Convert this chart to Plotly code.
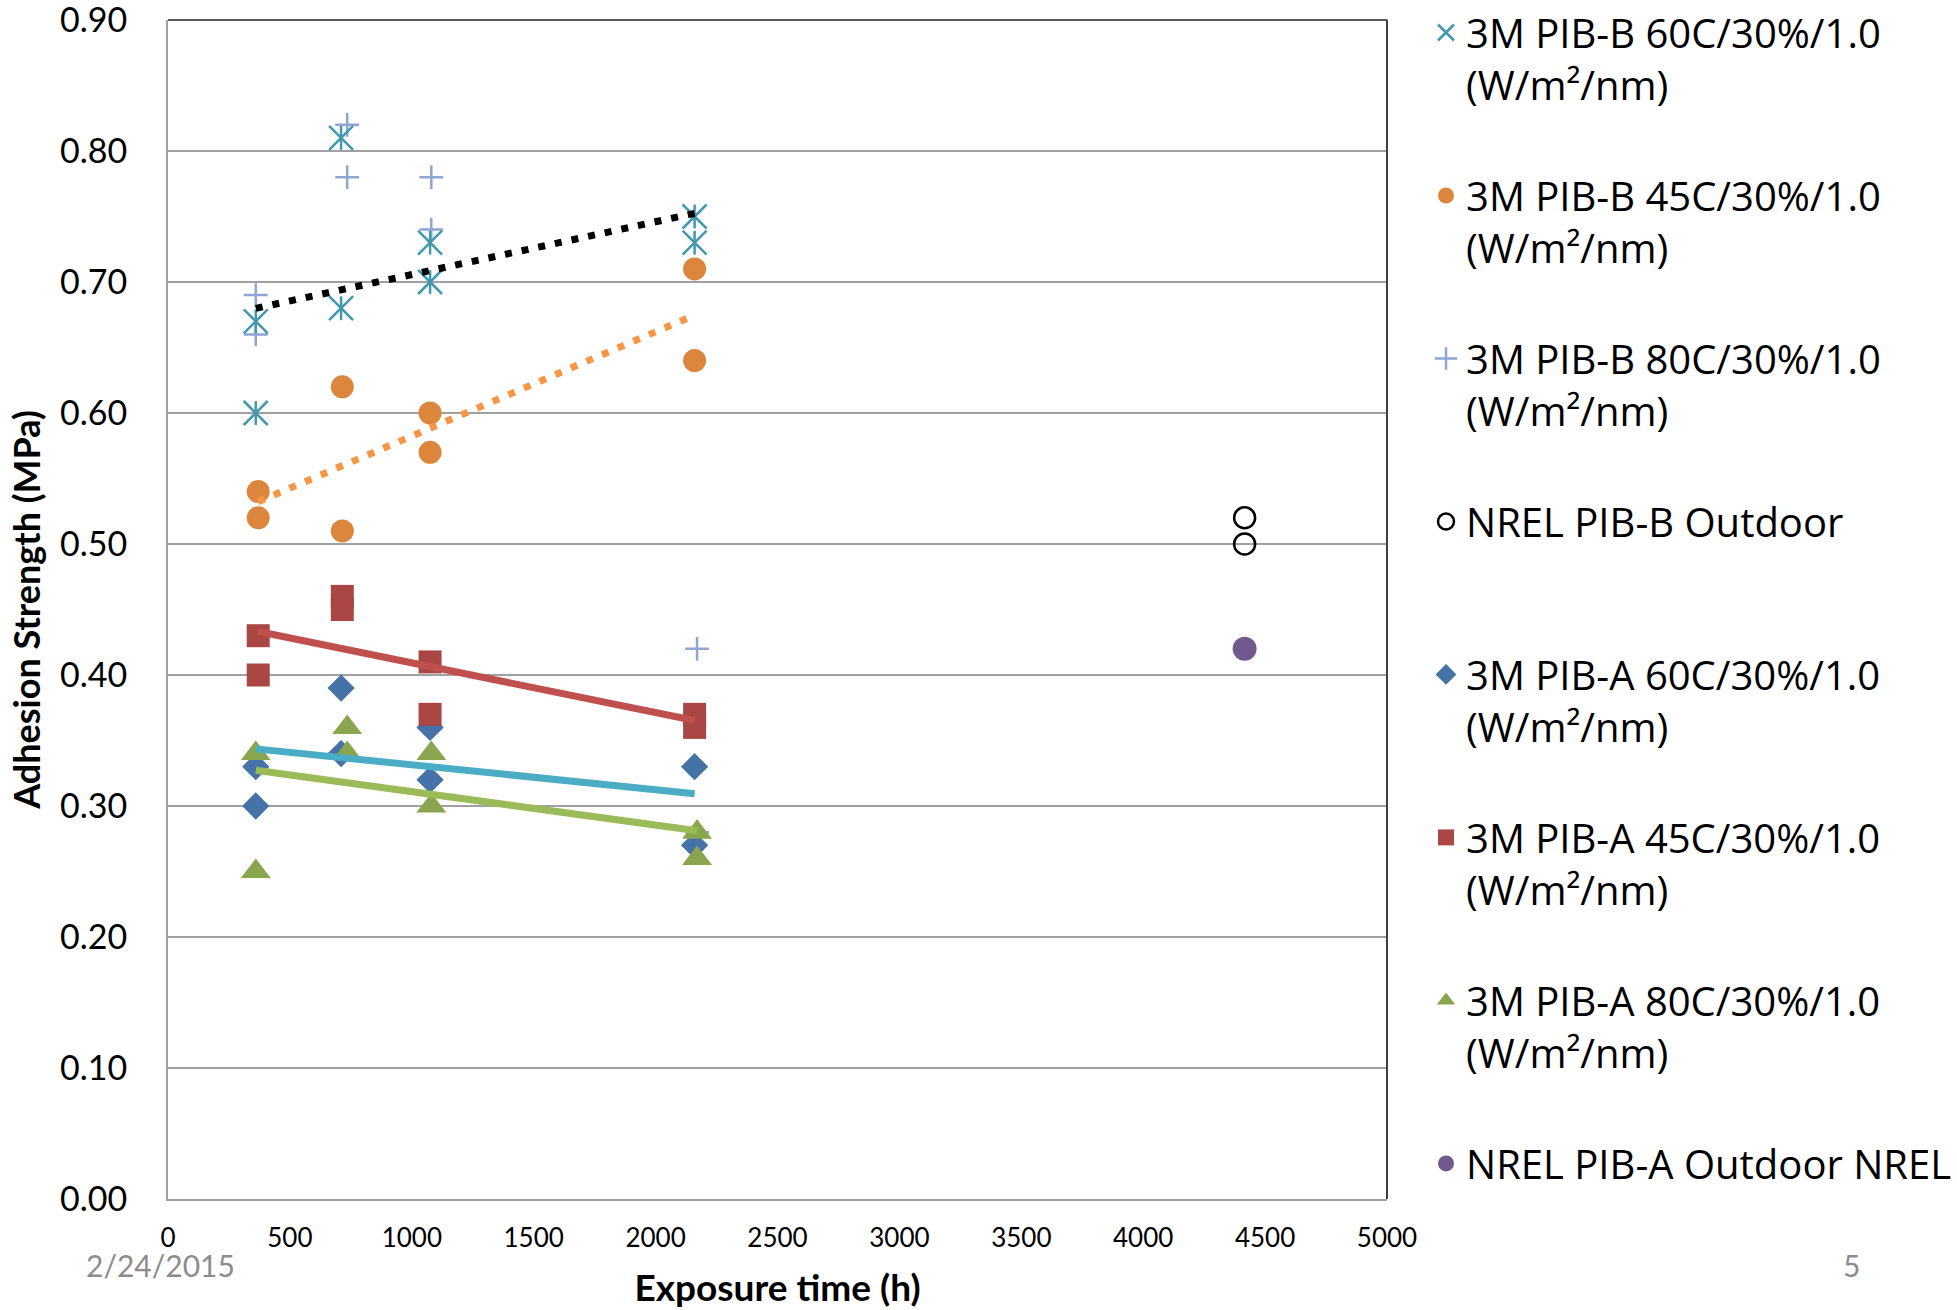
import numpy as np
import plotly.graph_objects as go

# Exposure time (h) per condition group
x_60c = [360, 360, 710, 710, 1075, 1075, 2160, 2160]
x_45c = [370, 370, 715, 715, 1075, 1075, 2160, 2160]
x_80c = [360, 360, 735, 735, 1080, 1080, 2170, 2170]
x_outdoor_b = [4416, 4416]
x_outdoor_a = [4416]

# Adhesion strength (MPa)
pib_b_60 = [0.67, 0.60, 0.81, 0.68, 0.73, 0.70, 0.75, 0.73]
pib_b_45 = [0.54, 0.52, 0.62, 0.51, 0.60, 0.57, 0.71, 0.64]
pib_b_80 = [0.69, 0.66, 0.82, 0.78, 0.78, 0.74, 0.42, 0.28]
nrel_b = [0.52, 0.50]
pib_a_60 = [0.33, 0.30, 0.39, 0.34, 0.36, 0.32, 0.33, 0.27]
pib_a_45 = [0.43, 0.40, 0.46, 0.45, 0.41, 0.37, 0.37, 0.36]
pib_a_80 = [0.34, 0.25, 0.36, 0.34, 0.34, 0.30, 0.28, 0.26]
nrel_a = [0.42]

names = {
    "b60": "3M PIB-B 60C/30%/1.0<br>(W/m²/nm)",
    "b45": "3M PIB-B 45C/30%/1.0<br>(W/m²/nm)",
    "b80": "3M PIB-B 80C/30%/1.0<br>(W/m²/nm)",
    "nb": "NREL PIB-B Outdoor<br>\u00a0",
    "a60": "3M PIB-A 60C/30%/1.0<br>(W/m²/nm)",
    "a45": "3M PIB-A 45C/30%/1.0<br>(W/m²/nm)",
    "a80": "3M PIB-A 80C/30%/1.0<br>(W/m²/nm)",
    "na": "NREL PIB-A Outdoor NREL",
}

y_ticks = [round(0.1 * i, 1) for i in range(10)]
x_ticks = list(range(0, 5001, 500))


def trend(x, y):
    k, b = np.polyfit(np.array(x, float), np.array(y, float), 1)
    xs = np.array([min(x), max(x)], float)
    return xs, k * xs + b


fig = go.Figure()

def pts(x, y, name, key, rank, symbol, size, color, lw=0, lc=None, show=True, leg="legend"):
    fig.add_trace(go.Scatter(
        x=x, y=y, mode="markers", name=name, legendgroup=key, legendrank=rank,
        showlegend=show, legend=leg,
        marker=dict(symbol=symbol, size=size, color=color,
                    line=dict(width=lw, color=lc if lc else color)),
        hoverinfo="skip"))

pts(x_80c, pib_b_80, names["b80"], "b80", 3, "cross-thin-open", 17, "#8FA6D2", lw=2.5)
pts(x_60c, pib_b_60, names["b60"], "b60", 1, "x-thin-open", 24, "#4198AF", lw=2.5)
pts(x_60c, pib_b_60, names["b60"], "b60", 1, "line-ns-open", 17, "#4198AF", lw=2.5, show=False)
pts(x_45c, pib_b_45, names["b45"], "b45", 2, "circle", 23, "#DC853D")
pts(x_60c, pib_a_60, names["a60"], "a60", 5, "diamond", 21, "#4572A7", leg="legend2")
pts(x_45c, pib_a_45, names["a45"], "a45", 6, "square", 23, "#AA4643", leg="legend2")
pts(x_80c, pib_a_80, names["a80"], "a80", 7, "triangle-up", 26, "#89A54E", leg="legend2")
pts(x_outdoor_b, nrel_b, names["nb"], "nb", 4, "circle-open", 21, "#000000", lw=2.5, lc="#000000")
pts(x_outdoor_a, nrel_a, names["na"], "na", 8, "circle", 24, "#71588F", leg="legend2")

def tline(x, y, color, dash, width):
    xs, ys = trend(x, y)
    fig.add_trace(go.Scatter(x=xs, y=ys, mode="lines", showlegend=False,
                             line=dict(color=color, dash=dash, width=width),
                             hoverinfo="skip"))

tline(x_60c, pib_b_60, "#000000", "7px,10px", 7)
tline(x_45c, pib_b_45, "#F79646", "7px,10px", 7)
tline(x_45c, pib_a_45, "#C0504D", "solid", 7)
tline(x_60c, pib_a_60, "#4BACC6", "solid", 7)
tline(x_80c, pib_a_80, "#9BBB59", "solid", 7)

legend_style = dict(
    x=1.032, xanchor="left", yanchor="top", yref="container",
    font=dict(family="Open Sans", size=40, color="#000000"),
    traceorder="grouped", tracegroupgap=56, valign="top",
    bgcolor="rgba(0,0,0,0)", itemsizing="trace",
)

fig.update_layout(
    width=1957, height=1310,
    margin=dict(l=168, r=570, t=20, b=111, autoexpand=False),
    paper_bgcolor="white", plot_bgcolor="white",
    font=dict(family="Lato", color="#000000"),
    legend=dict(y=1.008, **legend_style),
    legend2=dict(y=0.51, **legend_style),
    xaxis=dict(
        range=[0, 5000], tickvals=x_ticks, ticktext=[str(v) for v in x_ticks],
        showgrid=False, zeroline=False, showline=True, linecolor="#A0A0A0", linewidth=2,
        ticks="", tickfont=dict(family="Lato", size=26, color="#000000"),
        ticklabelstandoff=15, automargin=False, ticklabeloverflow="allow",
        title=dict(text="<b>Exposure time (h)</b>", font=dict(family="Lato", size=37),
                   standoff=23),
    ),
    yaxis=dict(
        range=[0, 0.9], tickvals=y_ticks, ticktext=[f"{v:.2f}" for v in y_ticks],
        showgrid=True, gridcolor="#A0A0A0", gridwidth=1.6,
        zeroline=False, showline=True, linecolor="#A0A0A0", linewidth=2,
        ticks="", tickfont=dict(family="Lato", size=34, color="#000000"),
        ticklabelstandoff=32, automargin=False, ticklabeloverflow="allow",
        title=dict(text="<b>Adhesion Strength (MPa)</b>", font=dict(family="Lato", size=36),
                   standoff=8),
    ),
    shapes=[
        dict(type="line", xref="paper", yref="paper", x0=0, x1=1, y0=1, y1=1,
             line=dict(color="#5A5A5A", width=2)),
        dict(type="line", xref="paper", yref="paper", x0=1, x1=1, y0=0, y1=1,
             line=dict(color="#404040", width=2)),
    ],
    annotations=[
        dict(text="2/24/2015", xref="paper", yref="paper", x=-0.006, y=-0.056,
             xanchor="center", yanchor="middle",
             showarrow=False, font=dict(family="Lato", size=30, color="#8C8C8C")),
        dict(text="5", xref="paper", yref="paper", x=1.3807, y=-0.056,
             xanchor="center", yanchor="middle",
             showarrow=False, font=dict(family="Lato", size=30, color="#8C8C8C")),
    ],
)

fig.write_html("out.html")
